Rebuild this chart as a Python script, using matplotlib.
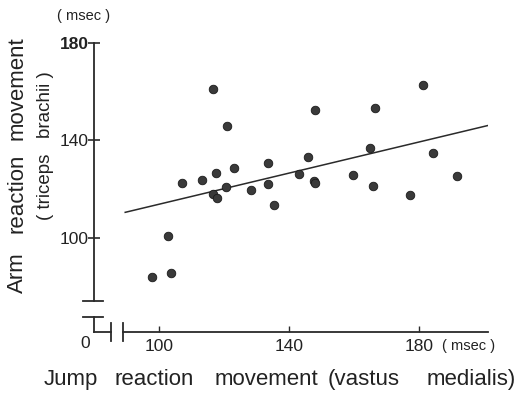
import matplotlib
matplotlib.use("Agg")
import matplotlib.pyplot as plt
import numpy as np

plt.rcParams['font.family'] = ['Liberation Sans', 'DejaVu Sans']

# Data (msec)
jump_rt = [116.6, 120.9, 148.0, 107.2, 113.1, 117.5, 123.0, 133.4, 145.8, 143.1,
           147.6, 120.6, 116.7, 117.9, 128.3, 133.4, 135.4, 102.9, 97.9, 103.7,
           181.3, 166.4, 165.0, 184.4, 148.0, 159.7, 165.9, 177.2, 191.8]
arm_rt = [160.9, 145.8, 152.4, 122.6, 123.7, 126.4, 128.5, 130.5, 133.2, 126.1,
          123.4, 120.7, 117.8, 116.4, 119.6, 121.9, 113.3, 100.7, 83.9, 85.6,
          162.6, 153.1, 136.7, 134.9, 122.6, 125.6, 121.2, 117.5, 125.2]
line_x = [89.6, 201.1]
line_y = [110.4, 146.0]
x_ticks = [100, 140, 180]
y_ticks = [100, 140, 180]

W, H = 523, 394
fig = plt.figure(figsize=(W / 100, H / 100), dpi=100)
ax = fig.add_axes([94 / W, 1 - 332 / H, (488 - 94) / W, (332 - 42.7) / H])
ax.set_xlim(80, 201.2)
ax.set_ylim(61.3, 180)
for s in ax.spines.values():
    s.set_visible(False)

ink = '#2a2a2a'
txt = '#222222'
ax.plot(line_x, line_y, color=ink, lw=1.1, zorder=2)
ax.scatter(jump_rt, arm_rt, s=38, color='#3a3a3a', edgecolors='#1a1a1a',
           linewidths=0.6, zorder=3)

# Broken axes
kw = dict(color=ink, lw=1.3, clip_on=False, zorder=1)
ax.plot([80, 80], [74, 180], **kw)
ax.plot([76.6, 82.8], [74, 74], **kw)
ax.plot([76.6, 82.8], [67.5, 67.5], **kw)
ax.plot([80, 80], [67.5, 61.3], **kw)
ax.plot([80, 85.2], [61.3, 61.3], **kw)
ax.plot([85.2, 85.2], [57.8, 64.8], **kw)
ax.plot([88.9, 88.9], [57.8, 64.8], **kw)
ax.plot([88.9, 201.2], [61.3, 61.3], **kw)

ax.set_xticks(x_ticks)
ax.set_yticks(y_ticks)
ax.tick_params(axis='y', direction='inout', length=8, width=1.2, color=ink,
               labelsize=12.5, pad=0)
ax.tick_params(axis='x', direction='in', length=4, width=1.0, color=ink,
               labelsize=12.5, pad=5)
ax.set_yticklabels([str(v) for v in y_ticks])
ax.set_xticklabels([str(v) for v in x_ticks])
for lab in ax.get_yticklabels():
    lab.set_color(txt)
    if lab.get_text() == '180':
        lab.set_fontweight('bold')
for lab in ax.get_xticklabels():
    lab.set_color(txt)

ax.text(77.2, 59.5, '0', ha='center', va='top', fontsize=12.5, color=txt)
ax.text(187, 58.5, '( msec )', ha='left', va='top', fontsize=10.5, color=txt)
fig.text(84 / W, 1 - 16 / H, '( msec )', ha='center', va='center', fontsize=10.5,
         color=txt)

# x-axis title, word by word (wide spacing as in the original)
base_y = 1 - 385 / H
for word, xpix in [('Jump', 44), ('reaction', 115), ('movement', 215),
                   ('(vastus', 328), ('medialis)', 427)]:
    fig.text(xpix / W, base_y, word, ha='left', va='baseline', fontsize=16,
             color=txt)

# y-axis title, word by word
for word, ypix in [('Arm', 293), ('reaction', 233), ('movement', 140)]:
    fig.text(17 / W, 1 - ypix / H, word, rotation=90, ha='center', va='bottom',
             fontsize=16, color=txt)
for word, ypix in [('( triceps', 220), ('brachii )', 138)]:
    fig.text(46 / W, 1 - ypix / H, word, rotation=90, ha='center', va='bottom',
             fontsize=13.5, color=txt)

fig.savefig('out.png', dpi=100)
